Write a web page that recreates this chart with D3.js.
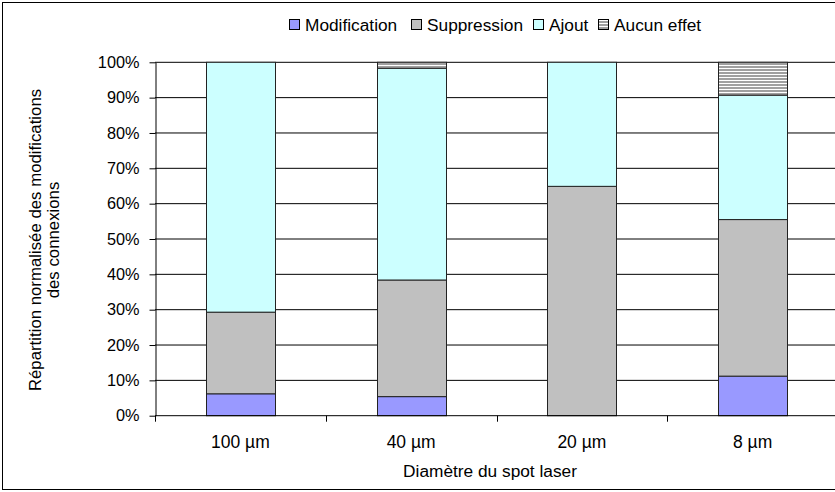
<!DOCTYPE html>
<html><head><meta charset="utf-8">
<script src="https://cdn.jsdelivr.net/npm/d3@7"></script>
<style>body{margin:0;background:#fff;} text{font-family:"Liberation Sans",Arial,sans-serif;fill:#000;}</style>
</head><body>
<svg id="c" width="835" height="492"></svg>
<script>
const categories = ["100 µm", "40 µm", "20 µm", "8 µm"];
const seriesNames = ["Modification", "Suppression", "Ajout", "Aucun effet"];
const modification = [6.2, 5.4, 0, 11.2];
const suppression = [23.1, 33.0, 64.9, 44.3];
const ajout = [70.7, 59.9, 35.1, 35.2];
const aucunEffet = [0, 1.7, 0, 9.3];
const yTicks = [0,10,20,30,40,50,60,70,80,90,100];

const svg = d3.select("#c");
const m = {left:155, top:62.3, right:838, bottom:415.7};

const defs = svg.append("defs");
const pat = defs.append("pattern").attr("id","hatch").attr("patternUnits","userSpaceOnUse")
  .attr("width",4).attr("height",3);
pat.append("rect").attr("width",4).attr("height",3).attr("fill","#fff");
pat.append("rect").attr("width",4).attr("height",2).attr("fill","#a0a0a0");

const colors = ["#9999ff","#c0c0c0","#ccffff","url(#hatch)"];

// outer border
svg.append("rect").attr("x",2.5).attr("y",2.5).attr("width",845).attr("height",487)
  .attr("fill","none").attr("stroke","#000").attr("stroke-width",1);

const x = d3.scaleBand().domain(categories).range([m.left, m.right]).paddingInner(0.596).paddingOuter(0.298);
const y = d3.scaleLinear().domain([0,100]).range([m.bottom, m.top]);

// gridlines
svg.append("g").selectAll("line").data(yTicks.slice(1)).join("line")
  .attr("x1",m.left).attr("x2",m.right)
  .attr("y1",d=>y(d)).attr("y2",d=>y(d))
  .attr("stroke","#000").attr("stroke-width",1);

// stacked data
const data = categories.map((c,i)=>({cat:c, Modification:modification[i], Suppression:suppression[i], Ajout:ajout[i], "Aucun effet":aucunEffet[i]}));
const stack = d3.stack().keys(seriesNames)(data);

const gBars = svg.append("g");
stack.forEach((s,si)=>{
  gBars.append("g").selectAll("rect").data(s.filter(d=>d[1]-d[0]>0)).join("rect")
    .attr("x",d=>Math.round(x(d.data.cat))+0.5)
    .attr("width",Math.round(x.bandwidth()))
    .attr("y",d=>y(d[1]))
    .attr("height",d=>y(d[0])-y(d[1]))
    .attr("fill",colors[si]).attr("stroke","#222").attr("stroke-width",1);
});

// y axis
const yAxis = d3.axisLeft(y).tickValues(yTicks).tickFormat(d=>d+"%").tickSizeOuter(0).tickSizeInner(6).tickPadding(10);
const gy = svg.append("g").attr("transform",`translate(${m.left+0.5},0)`).call(yAxis);
gy.selectAll(".tick line").attr("stroke","#000");
gy.selectAll(".tick text").attr("font-size","16.3px").attr("fill","#000").attr("x",-16)
  .style("font-family","Liberation Sans, Arial, sans-serif");
gy.select(".domain").attr("stroke","#000");

// x axis
svg.append("line").attr("x1",m.left).attr("x2",m.right).attr("y1",m.bottom).attr("y2",m.bottom).attr("stroke","#000");
const bounds = d3.range(categories.length+1).map(i=>m.left + i*(m.right-m.left)/categories.length);
svg.append("g").selectAll("line").data(bounds).join("line")
  .attr("x1",d=>Math.round(d)+0.5).attr("x2",d=>Math.round(d)+0.5)
  .attr("y1",m.bottom).attr("y2",m.bottom+6).attr("stroke","#000");
svg.append("g").selectAll("text").data(categories).join("text")
  .attr("x",d=>x(d)+x.bandwidth()/2).attr("y",448)
  .attr("text-anchor","middle").attr("font-size","17.5px").text(d=>d);

// axis titles
svg.append("text").attr("x",490).attr("y",477).attr("text-anchor","middle").attr("font-size","17.3px").text("Diamètre du spot laser");
const yt = svg.append("text").attr("transform","translate(41,240) rotate(-90)").attr("text-anchor","middle").attr("font-size","16.8px");
yt.append("tspan").attr("x",0).attr("dy",0).text("Répartition normalisée des modifications");
yt.append("tspan").attr("x",0).attr("dy",18).text("des connexions");

// legend
const legendX = [289, 411, 533, 598];
const lg = svg.append("g");
seriesNames.forEach((n,i)=>{
  lg.append("rect").attr("x",legendX[i]+0.5).attr("y",19.5).attr("width",10).attr("height",10)
    .attr("fill",colors[i]).attr("stroke","#000");
  lg.append("text").attr("x",legendX[i]+16).attr("y",31).attr("font-size","17.3px").text(n);
});
</script>
</body></html>
